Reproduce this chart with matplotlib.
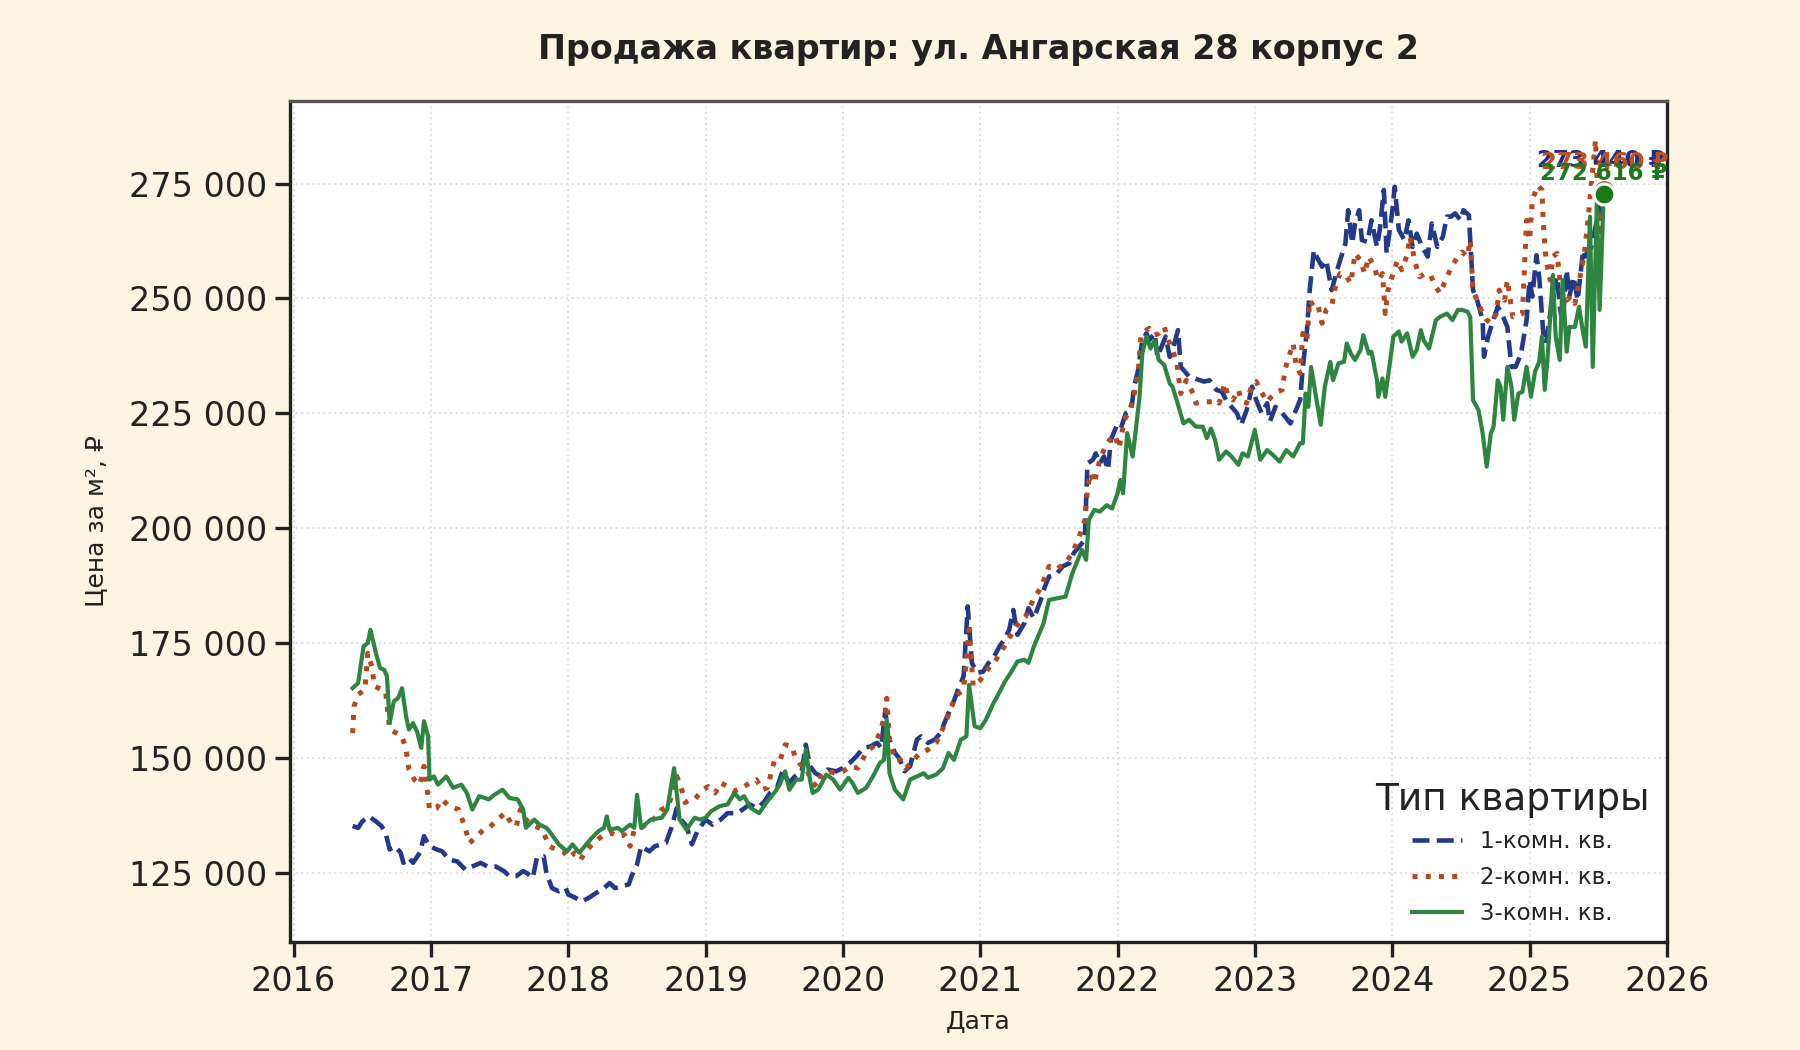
import datetime as dt
import matplotlib
matplotlib.use("Agg")
import matplotlib.pyplot as plt
import matplotlib.dates as mdates
from matplotlib.ticker import FuncFormatter, MultipleLocator

# --- data (decimal year, price per m2, RUB) ---
years_1k = [2016.43, 2016.47, 2016.50, 2016.55, 2016.60, 2016.64, 2016.67, 2016.70, 2016.74, 2016.78,
            2016.80, 2016.84, 2016.87, 2016.92, 2016.95, 2016.99, 2017.04, 2017.08, 2017.13, 2017.19,
            2017.25, 2017.30, 2017.36, 2017.41, 2017.47, 2017.53, 2017.57, 2017.62, 2017.67, 2017.70,
            2017.74, 2017.77, 2017.82, 2017.84, 2017.88, 2017.93, 2017.98, 2018.00, 2018.05, 2018.10,
            2018.15, 2018.20, 2018.26, 2018.30, 2018.34, 2018.39, 2018.44, 2018.46, 2018.50, 2018.53,
            2018.59, 2018.63, 2018.71, 2018.75, 2018.79, 2018.82, 2018.86, 2018.90, 2018.94, 2019.00,
            2019.05, 2019.11, 2019.16, 2019.23, 2019.27, 2019.32, 2019.38, 2019.43, 2019.47, 2019.52,
            2019.56, 2019.61, 2019.65, 2019.70, 2019.73, 2019.76, 2019.80, 2019.84, 2019.89, 2019.95,
            2020.00, 2020.05, 2020.10, 2020.15, 2020.20, 2020.25, 2020.28, 2020.31, 2020.33, 2020.38,
            2020.41, 2020.45, 2020.49, 2020.54, 2020.57, 2020.62, 2020.67, 2020.71, 2020.76, 2020.79,
            2020.84, 2020.88, 2020.91, 2020.94, 2020.98, 2021.02, 2021.06, 2021.10, 2021.14, 2021.18,
            2021.21, 2021.24, 2021.27, 2021.32, 2021.35, 2021.39, 2021.44, 2021.47, 2021.50, 2021.55,
            2021.60, 2021.65, 2021.68, 2021.72, 2021.76, 2021.78, 2021.82, 2021.84, 2021.87, 2021.90,
            2021.93, 2021.95, 2021.99, 2022.02, 2022.06, 2022.10, 2022.12, 2022.15, 2022.18, 2022.21,
            2022.23, 2022.27, 2022.29, 2022.33, 2022.35, 2022.38, 2022.40, 2022.44, 2022.46, 2022.49,
            2022.52, 2022.56, 2022.60, 2022.63, 2022.67, 2022.70, 2022.72, 2022.76, 2022.79, 2022.83,
            2022.87, 2022.90, 2022.94, 2022.98, 2023.01, 2023.05, 2023.09, 2023.11, 2023.15, 2023.18,
            2023.22, 2023.26, 2023.29, 2023.33, 2023.35, 2023.38, 2023.40, 2023.43, 2023.45, 2023.49,
            2023.52, 2023.56, 2023.60, 2023.63, 2023.66, 2023.68, 2023.71, 2023.73, 2023.76, 2023.78,
            2023.82, 2023.85, 2023.89, 2023.91, 2023.94, 2023.96, 2024.00, 2024.02, 2024.05, 2024.09,
            2024.12, 2024.15, 2024.18, 2024.22, 2024.26, 2024.29, 2024.33, 2024.37, 2024.40, 2024.43,
            2024.46, 2024.50, 2024.52, 2024.56, 2024.59, 2024.62, 2024.66, 2024.67, 2024.70, 2024.73,
            2024.77, 2024.80, 2024.84, 2024.87, 2024.90, 2024.94, 2024.98, 2025.00, 2025.02, 2025.05,
            2025.07, 2025.10, 2025.12, 2025.15, 2025.17, 2025.20, 2025.22, 2025.24, 2025.27, 2025.29,
            2025.32, 2025.35, 2025.39, 2025.41, 2025.45, 2025.49, 2025.54]
price_1k = [135200, 134800, 136200, 137300, 136200, 135200, 133700, 130100, 130800, 129400,
            127200, 128300, 127200, 129400, 133000, 130800, 130100, 129700, 127900, 127500,
            125700, 126400, 127200, 126400, 126400, 125400, 124300, 124300, 125400, 124900,
            123900, 128300, 128600, 124900, 121700, 121000, 121700, 120300, 119600, 118800,
            119600, 120600, 121700, 122800, 121700, 122100, 122500, 124300, 126800, 130800,
            129700, 130800, 131500, 134800, 139100, 136600, 135200, 131200, 134100, 136600,
            135500, 136600, 138000, 138000, 138800, 139900, 139100, 140600, 142400, 143500,
            147100, 144600, 146000, 147100, 152900, 148200, 146700, 146000, 147500, 147100,
            147800, 148900, 150400, 152200, 152500, 153300, 152200, 160500, 154700, 151100,
            150000, 147100, 148200, 154000, 154700, 153300, 154000, 155400, 159100, 160900,
            164900, 167800, 183000, 170700, 168500, 168800, 170700, 172100, 174300, 176100,
            177900, 182200, 176800, 179300, 182600, 180400, 184400, 187300, 189500, 189900,
            191700, 192400, 194600, 196000, 197500, 214100, 214900, 216300, 214100, 215600,
            212700, 219200, 222100, 221400, 225000, 225700, 230800, 234400, 240900, 242400,
            240900, 242400, 237300, 240200, 241700, 237300, 238800, 243100, 235100, 234100,
            233000, 232600, 232200, 231900, 232200, 230800, 230100, 229700, 227900, 226400,
            225000, 222500, 225700, 230800, 227900, 225000, 227200, 223200, 226400, 225700,
            224300, 222800, 225000, 227900, 235100, 243100, 251800, 260500, 259100, 256900,
            258300, 251800, 256200, 259100, 262000, 269200, 262000, 266300, 269200, 262700,
            262300, 267000, 261200, 264900, 273600, 259800, 268500, 274300, 264900, 262700,
            267000, 261200, 264100, 261200, 259100, 266300, 261200, 263400, 267800, 267800,
            268500, 267000, 269200, 268100, 251800, 249600, 245300, 237300, 241700, 244600,
            248200, 246700, 243800, 235100, 235100, 238000, 245300, 254000, 250400, 259400,
            254700, 242400, 240200, 246700, 251800, 254700, 248200, 244600, 256200, 250400,
            254700, 249600, 260500, 259100, 261200, 267000, 273440]

years_2k = [2016.43, 2016.44, 2016.47, 2016.52, 2016.54, 2016.57, 2016.59, 2016.64, 2016.67, 2016.70,
            2016.75, 2016.79, 2016.82, 2016.84, 2016.88, 2016.92, 2016.95, 2016.98, 2016.99, 2017.04,
            2017.08, 2017.13, 2017.20, 2017.24, 2017.28, 2017.33, 2017.38, 2017.42, 2017.47, 2017.54,
            2017.58, 2017.62, 2017.65, 2017.69, 2017.74, 2017.81, 2017.86, 2017.91, 2017.96, 2018.00,
            2018.05, 2018.09, 2018.12, 2018.16, 2018.21, 2018.26, 2018.31, 2018.36, 2018.41, 2018.45,
            2018.48, 2018.53, 2018.59, 2018.64, 2018.68, 2018.73, 2018.79, 2018.82, 2018.85, 2018.89,
            2018.92, 2018.98, 2019.02, 2019.07, 2019.11, 2019.16, 2019.21, 2019.27, 2019.32, 2019.37,
            2019.41, 2019.45, 2019.50, 2019.54, 2019.58, 2019.63, 2019.65, 2019.69, 2019.73, 2019.77,
            2019.81, 2019.84, 2019.89, 2019.95, 2020.00, 2020.06, 2020.11, 2020.17, 2020.22, 2020.27,
            2020.31, 2020.32, 2020.34, 2020.38, 2020.42, 2020.46, 2020.51, 2020.56, 2020.62, 2020.68,
            2020.73, 2020.77, 2020.82, 2020.88, 2020.92, 2020.95, 2021.00, 2021.05, 2021.10, 2021.16,
            2021.21, 2021.27, 2021.33, 2021.39, 2021.44, 2021.50, 2021.55, 2021.62, 2021.67, 2021.72,
            2021.76, 2021.78, 2021.80, 2021.83, 2021.87, 2021.90, 2021.94, 2021.98, 2022.01, 2022.05,
            2022.09, 2022.12, 2022.15, 2022.17, 2022.21, 2022.23, 2022.27, 2022.30, 2022.34, 2022.37,
            2022.40, 2022.43, 2022.46, 2022.50, 2022.52, 2022.55, 2022.57, 2022.62, 2022.67, 2022.72,
            2022.74, 2022.78, 2022.80, 2022.84, 2022.88, 2022.90, 2022.94, 2022.98, 2023.01, 2023.04,
            2023.09, 2023.12, 2023.16, 2023.20, 2023.22, 2023.24, 2023.28, 2023.30, 2023.33, 2023.35,
            2023.38, 2023.40, 2023.43, 2023.46, 2023.49, 2023.52, 2023.56, 2023.58, 2023.62, 2023.66,
            2023.70, 2023.73, 2023.77, 2023.80, 2023.83, 2023.87, 2023.90, 2023.93, 2023.95, 2023.97,
            2024.00, 2024.04, 2024.07, 2024.11, 2024.13, 2024.17, 2024.20, 2024.24, 2024.28, 2024.32,
            2024.35, 2024.40, 2024.44, 2024.48, 2024.51, 2024.55, 2024.57, 2024.59, 2024.63, 2024.66,
            2024.69, 2024.72, 2024.76, 2024.78, 2024.82, 2024.84, 2024.88, 2024.92, 2024.95, 2024.98,
            2025.00, 2025.02, 2025.06, 2025.09, 2025.10, 2025.12, 2025.15, 2025.17, 2025.20, 2025.22,
            2025.24, 2025.27, 2025.30, 2025.33, 2025.37, 2025.40, 2025.43, 2025.45, 2025.48, 2025.51,
            2025.54]
price_2k = [155400, 161200, 163800, 164900, 172800, 169900, 165600, 164900, 164500, 156200,
            155400, 154700, 151800, 147500, 145300, 144200, 148200, 141700, 138800, 139100,
            141000, 139500, 138800, 135500, 131500, 132900, 134400, 134800, 136200, 138100,
            135900, 135100, 138800, 136600, 135500, 134400, 130800, 130100, 129700, 128300,
            129400, 127900, 129400, 130800, 132200, 133300, 133700, 132900, 133300, 130800,
            134400, 134800, 135900, 137300, 138800, 139500, 146000, 143800, 140300, 141000,
            141000, 143100, 143800, 142400, 144600, 143800, 142800, 143500, 144600, 145300,
            143100, 143500, 149300, 149300, 152900, 152500, 150400, 148600, 148200, 144900,
            143800, 146000, 147100, 146700, 147100, 148200, 147800, 151100, 152500, 155400,
            159800, 163000, 154000, 149600, 149600, 147800, 149300, 151100, 151800, 153300,
            156500, 159400, 163400, 164900, 177900, 165600, 167000, 169200, 170700, 173600,
            176100, 179000, 180800, 184800, 187000, 191700, 191000, 192400, 194600, 198200,
            201500, 208300, 212000, 209800, 214900, 217000, 219200, 220300, 217400, 223600,
            225700, 229000, 233700, 241700, 243100, 243500, 242000, 242400, 243800, 240900,
            238800, 236200, 229300, 232200, 231200, 229300, 227200, 227500, 227500, 227900,
            227200, 231500, 229300, 227900, 230100, 227900, 227200, 231500, 231900, 230100,
            227500, 228600, 229700, 230100, 234400, 236600, 240200, 235500, 233700, 242400,
            240900, 249600, 248200, 248600, 244600, 247500, 248200, 251800, 255400, 255100,
            253300, 259800, 258300, 255400, 259100, 256900, 254000, 255400, 246700, 251800,
            254700, 258300, 256200, 259400, 263400, 257600, 254700, 255400, 255100, 252500,
            251100, 254700, 257200, 259100, 260100, 259100, 262700, 251800, 248900, 246700,
            245300, 244600, 246700, 251800, 249600, 254000, 246000, 246400, 246700, 267000,
            262700, 271400, 274600, 273600, 266300, 258300, 254000, 259100, 259800, 254000,
            251100, 249600, 250400, 248900, 255100, 259800, 268500, 275000, 284500, 262000,
            273460]

years_3k = [2016.43, 2016.47, 2016.51, 2016.54, 2016.56, 2016.60, 2016.63, 2016.66, 2016.68, 2016.70,
            2016.73, 2016.76, 2016.79, 2016.82, 2016.84, 2016.87, 2016.90, 2016.93, 2016.95, 2016.98,
            2016.99, 2017.02, 2017.05, 2017.11, 2017.16, 2017.22, 2017.26, 2017.30, 2017.35, 2017.42,
            2017.46, 2017.52, 2017.57, 2017.63, 2017.67, 2017.69, 2017.75, 2017.79, 2017.84, 2017.87,
            2017.93, 2017.99, 2018.03, 2018.08, 2018.13, 2018.17, 2018.22, 2018.26, 2018.28, 2018.30,
            2018.36, 2018.39, 2018.45, 2018.48, 2018.50, 2018.53, 2018.60, 2018.68, 2018.72, 2018.77,
            2018.81, 2018.86, 2018.92, 2018.96, 2019.00, 2019.04, 2019.10, 2019.16, 2019.21, 2019.25,
            2019.28, 2019.33, 2019.39, 2019.45, 2019.50, 2019.54, 2019.58, 2019.61, 2019.66, 2019.70,
            2019.73, 2019.76, 2019.78, 2019.82, 2019.88, 2019.93, 2019.98, 2020.04, 2020.07, 2020.11,
            2020.17, 2020.22, 2020.27, 2020.30, 2020.32, 2020.34, 2020.38, 2020.44, 2020.49, 2020.54,
            2020.59, 2020.62, 2020.68, 2020.73, 2020.77, 2020.81, 2020.86, 2020.90, 2020.92, 2020.96,
            2021.00, 2021.04, 2021.09, 2021.13, 2021.18, 2021.22, 2021.27, 2021.32, 2021.35, 2021.39,
            2021.46, 2021.50, 2021.62, 2021.67, 2021.70, 2021.74, 2021.77, 2021.79, 2021.83, 2021.87,
            2021.92, 2021.96, 2022.00, 2022.02, 2022.04, 2022.07, 2022.11, 2022.13, 2022.16, 2022.18,
            2022.21, 2022.24, 2022.27, 2022.30, 2022.34, 2022.38, 2022.40, 2022.43, 2022.48, 2022.52,
            2022.57, 2022.62, 2022.65, 2022.68, 2022.71, 2022.74, 2022.79, 2022.83, 2022.88, 2022.91,
            2022.95, 2023.00, 2023.04, 2023.09, 2023.13, 2023.18, 2023.23, 2023.28, 2023.33, 2023.35,
            2023.37, 2023.39, 2023.41, 2023.45, 2023.48, 2023.51, 2023.55, 2023.57, 2023.61, 2023.65,
            2023.67, 2023.70, 2023.73, 2023.77, 2023.79, 2023.83, 2023.85, 2023.89, 2023.90, 2023.93,
            2023.95, 2023.98, 2024.01, 2024.05, 2024.07, 2024.11, 2024.15, 2024.18, 2024.21, 2024.23,
            2024.27, 2024.32, 2024.35, 2024.40, 2024.44, 2024.48, 2024.51, 2024.55, 2024.57, 2024.59,
            2024.63, 2024.66, 2024.69, 2024.72, 2024.74, 2024.77, 2024.79, 2024.81, 2024.84, 2024.87,
            2024.89, 2024.92, 2024.95, 2024.98, 2025.01, 2025.04, 2025.07, 2025.09, 2025.11, 2025.13,
            2025.17, 2025.19, 2025.22, 2025.24, 2025.27, 2025.29, 2025.33, 2025.36, 2025.39, 2025.41,
            2025.44, 2025.46, 2025.49, 2025.51, 2025.54]
price_3k = [165200, 166300, 174300, 175000, 177900, 172800, 169600, 169200, 167800, 157600,
            162300, 163000, 165200, 159000, 156200, 157600, 155700, 152200, 158000, 154700,
            145300, 146000, 144200, 146000, 143500, 144200, 142400, 138800, 141700, 141000,
            142000, 143100, 141300, 141000, 138800, 134800, 136600, 135500, 134800, 133700,
            131200, 129700, 131200, 129400, 131200, 132600, 134100, 134800, 137300, 134400,
            134800, 134100, 135500, 134800, 142000, 134800, 136600, 137000, 138800, 147800,
            136600, 134400, 137000, 136600, 137000, 138400, 139500, 139900, 142400, 141000,
            141700, 139100, 138000, 140600, 142400, 144200, 147100, 143100, 145300, 145300,
            151800, 145300, 142400, 143100, 146400, 145300, 143100, 145700, 144600, 142400,
            143500, 146000, 148900, 149600, 158300, 146700, 143100, 141000, 145300, 146000,
            146700, 145700, 146400, 147800, 151100, 149600, 154000, 154700, 165900, 156900,
            156500, 158300, 161600, 163800, 166700, 168500, 171000, 171400, 170700, 174300,
            179300, 184400, 185100, 190200, 192400, 195300, 193100, 201800, 204000, 203600,
            205000, 204300, 207600, 210500, 207600, 220700, 215600, 220700, 228600, 238000,
            241700, 239100, 240900, 236600, 235500, 231500, 230800, 227900, 222800, 223600,
            222100, 222100, 219600, 221700, 219200, 214900, 216700, 215600, 213800, 216300,
            215600, 221400, 214900, 217000, 216000, 214500, 217000, 215600, 218500, 218500,
            229300, 226400, 235100, 227900, 222500, 230800, 236200, 232200, 235900, 236200,
            240200, 238000, 236600, 238800, 242000, 238000, 238400, 232200, 228600, 232600,
            228600, 235100, 241700, 242800, 240600, 242400, 237300, 238800, 243100, 240900,
            239100, 245300, 246000, 246700, 245300, 247500, 247500, 247100, 246000, 227900,
            225700, 220700, 213400, 220700, 222100, 232200, 230800, 223600, 235100, 230800,
            223600, 229300, 229700, 235100, 228600, 234100, 236200, 241700, 230100, 236600,
            255100, 241700, 236600, 254000, 238400, 243800, 243800, 248200, 242400, 239500,
            267800, 235100, 271400, 247500, 272616]

series_labels = ["1-комн. кв.", "2-комн. кв.", "3-комн. кв."]


def to_date(y):
    year = int(y)
    start = dt.datetime(year, 1, 1)
    return start + dt.timedelta(days=(y - year) * 365.25)


def rub(v):
    return f"{v:,.0f}".replace(",", " ")


BG = "#fbf4e2"
colors = ["#233a8b", "#b5481d", "#2e8540"]
end_colors = ["#1f2f86", "#c0501e", "#1a7a1a"]
styles = ["--", ":", "-"]
widths = [2.2, 2.4, 2.0]

plt.rcParams["font.family"] = ["DejaVu Sans"]

fig = plt.figure(figsize=(12, 7), dpi=150, facecolor=BG)
ax = fig.add_axes([0.161, 0.103, 0.765, 0.801])
ax.set_facecolor("#ffffff")

all_years = [years_1k, years_2k, years_3k]
all_prices = [price_1k, price_2k, price_3k]

for yrs, vals, lab, c, ls, lw in zip(all_years, all_prices, series_labels, colors, styles, widths):
    ax.plot([to_date(v) for v in yrs], vals, ls=ls, lw=lw, color=c, label=lab, zorder=3)

# end markers and labels
offsets = [(-1.5, 9), (0.5, 8), (0, 4.5)]
sizes = [11, 11.5, 10]
for yrs, vals, c, off, ms in zip(all_years, all_prices, end_colors, offsets, sizes):
    d = to_date(yrs[-1])
    ax.plot(d, vals[-1], "o", ms=ms, color=c, mec="white", mew=1.5, zorder=5)
    ax.annotate(f"{rub(vals[-1])} ₽", (d, vals[-1]), xytext=off, textcoords="offset points",
                ha="center", va="bottom", fontsize=11, fontweight="bold", color=c, zorder=6)

ax.set_xlim(dt.datetime(2015, 12, 22), dt.datetime(2026, 1, 1))
ax.set_ylim(110000, 293000)
ax.xaxis.set_major_locator(mdates.YearLocator())
ax.xaxis.set_major_formatter(mdates.DateFormatter("%Y"))
ax.yaxis.set_major_locator(MultipleLocator(25000))
ax.yaxis.set_major_formatter(FuncFormatter(lambda v, p: rub(v)))

ax.grid(True, ls=":", lw=1.0, color="#e0e0e0", zorder=0)
ax.tick_params(axis="both", labelsize=16, length=7, width=1.6, color="#222222",
               labelcolor="#222222", pad=4)
for side in ["left", "right", "bottom"]:
    ax.spines[side].set_color("#222222")
    ax.spines[side].set_linewidth(1.6)
ax.spines["top"].set_color("#555555")
ax.spines["top"].set_linewidth(1.6)

ax.set_title("Продажа квартир: ул. Ангарская 28 корпус 2", fontsize=16, fontweight="bold",
             color="#222222", pad=20)
ax.set_xlabel("Дата", fontsize=12, color="#222222", labelpad=6)
ax.set_ylabel("Цена за м², ₽", fontsize=12, color="#222222", labelpad=10)

leg = ax.legend(title="Тип квартиры", loc="lower right", frameon=False, fontsize=11,
                title_fontsize=18, handlelength=2.2, labelspacing=0.55, borderaxespad=0.35)
for t in leg.get_texts():
    t.set_color("#222222")
leg.get_title().set_color("#222222")

fig.savefig("out.png", dpi=150, facecolor=BG)
